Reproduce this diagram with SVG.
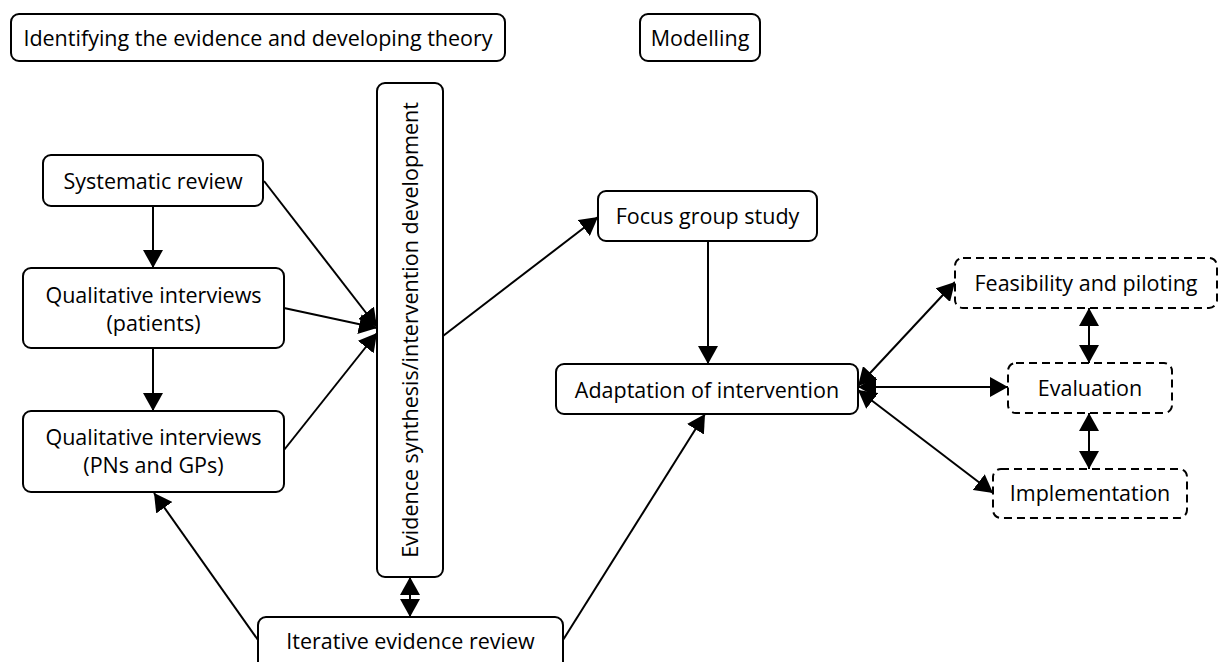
<svg xmlns="http://www.w3.org/2000/svg" width="1222" height="662" viewBox="0 0 1222 662">
<style>
.b{fill:#fff;stroke:#000;stroke-width:2}
.d{fill:#fff;stroke:#000;stroke-width:2;stroke-dasharray:8 5}
.t{font-family:"Open Sans","Noto Sans","Liberation Sans",sans-serif;font-size:21.5px;fill:#000;text-anchor:middle}
.c line{stroke:#000;stroke-width:2;fill:none}
</style>
<defs>
<marker id="a" viewBox="0 0 18 20" refX="18" refY="10" markerWidth="18" markerHeight="20" markerUnits="userSpaceOnUse" orient="auto-start-reverse"><path d="M0,0 L18,10 L0,20 z" fill="#000"/></marker>
</defs>
<rect width="1222" height="662" fill="#fff"/>
<g class="c" id="connectors">
<line x1="153" y1="206" x2="153" y2="268" marker-end="url(#a)"/>
<line x1="153" y1="348" x2="153" y2="411" marker-end="url(#a)"/>
<line x1="264" y1="181" x2="377" y2="327" marker-end="url(#a)"/>
<line x1="284" y1="308" x2="377" y2="328" marker-end="url(#a)"/>
<line x1="284" y1="450" x2="377" y2="333" marker-end="url(#a)"/>
<line x1="443" y1="336" x2="598" y2="217" marker-end="url(#a)"/>
<line x1="708" y1="241" x2="708" y2="364" marker-end="url(#a)"/>
<line x1="410" y1="577" x2="410" y2="617" marker-start="url(#a)" marker-end="url(#a)"/>
<line x1="258" y1="640" x2="154" y2="493" marker-end="url(#a)"/>
<line x1="563" y1="640" x2="705" y2="414" marker-end="url(#a)"/>
<line x1="858" y1="386" x2="955" y2="282" marker-start="url(#a)" marker-end="url(#a)"/>
<line x1="858" y1="387" x2="1008" y2="387" marker-start="url(#a)" marker-end="url(#a)"/>
<line x1="858" y1="390" x2="993" y2="493" marker-start="url(#a)" marker-end="url(#a)"/>
<line x1="1089" y1="308" x2="1089" y2="363" marker-start="url(#a)" marker-end="url(#a)"/>
<line x1="1089" y1="413" x2="1089" y2="469" marker-start="url(#a)" marker-end="url(#a)"/>
</g>
<g id="title"><rect class="b" x="11" y="14" width="494" height="47" rx="8"/><text class="t" x="258" y="45.5">Identifying the evidence and developing theory</text></g>
<g id="modelling"><rect class="b" x="640" y="14" width="120" height="47" rx="8"/><text class="t" x="700" y="45.5">Modelling</text></g>
<g id="systematic"><rect class="b" x="43" y="155" width="220" height="51" rx="8"/><text class="t" x="153" y="188.5">Systematic review</text></g>
<g id="qualpatients"><rect class="b" x="23" y="268" width="261" height="80" rx="8"/><text class="t" x="153.5" y="302.5">Qualitative interviews</text><text class="t" x="153.5" y="330.5">(patients)</text></g>
<g id="qualpns"><rect class="b" x="23" y="411" width="261" height="81" rx="8"/><text class="t" x="153.5" y="444.5">Qualitative interviews</text><text class="t" x="153.5" y="472.5">(PNs and GPs)</text></g>
<g id="evidence"><rect class="b" x="377" y="83" width="66" height="494" rx="8"/><text class="t" transform="translate(417.5,330) rotate(-90)">Evidence synthesis/intervention development</text></g>
<g id="iterative"><rect class="b" x="258" y="617" width="305" height="60" rx="8"/><text class="t" x="410.5" y="648.5">Iterative evidence review</text></g>
<g id="focus"><rect class="b" x="598" y="191" width="219" height="50" rx="8"/><text class="t" x="707.5" y="223.5">Focus group study</text></g>
<g id="adaptation"><rect class="b" x="556" y="364" width="302" height="50" rx="8"/><text class="t" x="707" y="397.5">Adaptation of intervention</text></g>
<g id="feasibility"><rect class="d" x="955" y="258" width="262" height="50" rx="8"/><text class="t" x="1086" y="290.5">Feasibility and piloting</text></g>
<g id="evaluation"><rect class="d" x="1008" y="363" width="164" height="50" rx="8"/><text class="t" x="1090" y="395.5">Evaluation</text></g>
<g id="implementation"><rect class="d" x="993" y="469" width="194" height="49" rx="8"/><text class="t" x="1090" y="500.5">Implementation</text></g>
</svg>
